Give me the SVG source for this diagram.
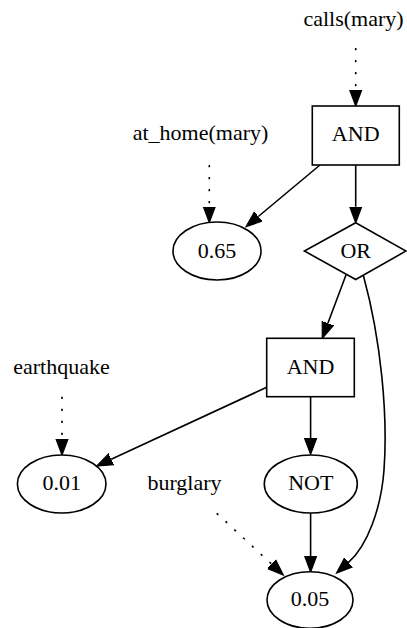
<svg xmlns="http://www.w3.org/2000/svg" width="407" height="628" viewBox="0 0 407 628">
<style>
  .lbl { font-size: 22px; fill: #000; text-anchor: middle; }
  .shape { fill: #fff; stroke: #000; stroke-width: 1.6; }
  .edge { fill: none; stroke: #000; stroke-width: 1.6; }
  .dotted { stroke-dasharray: 2.2 9.8; }
</style>
<defs>
  <marker id="arrow" markerUnits="userSpaceOnUse" markerWidth="18" markerHeight="14" viewBox="0 -7 18 14" refX="0" refY="0" orient="auto">
    <path d="M0,-6 L16,0 L0,6 Z" fill="#000" stroke="#000" stroke-width="1.2"/>
  </marker>
</defs>

<g id="connectors">
  <path class="edge dotted" d="M355.7,48 L355.7,90" marker-end="url(#arrow)"/>
  <path class="edge dotted" d="M209.3,165 L209.3,206.5" marker-end="url(#arrow)"/>
  <path class="edge" d="M320,165 L258.3,216.5" marker-end="url(#arrow)"/>
  <path class="edge" d="M355.7,165 L355.7,206.7" marker-end="url(#arrow)"/>
  <path class="edge" d="M346,275 L327.9,323.3" marker-end="url(#arrow)"/>
  <path class="edge" d="M266.7,387.3 L111.2,459.2" marker-end="url(#arrow)"/>
  <path class="edge dotted" d="M62,396.7 L62,439" marker-end="url(#arrow)"/>
  <path class="edge" d="M310.6,396.7 L310.6,438.3" marker-end="url(#arrow)"/>
  <path class="edge" d="M310.6,513 L310.6,556" marker-end="url(#arrow)"/>
  <path class="edge dotted" d="M216.7,513.3 L271.6,564.1" marker-end="url(#arrow)"/>
  <path class="edge" d="M363.5,276 C381,340 388,415 384,470 C381.2,508.5 367.2,545.8 348.5,562.4" marker-end="url(#arrow)"/>
</g>

<g font-family="Liberation Serif, serif">
<g id="calls_mary"><text class="lbl" x="353.5" y="26">calls(mary)</text></g>
<g id="and1">
  <rect class="shape" x="312.3" y="106" width="87" height="59"/>
  <text class="lbl" x="355.7" y="141">AND</text>
</g>
<g id="at_home_mary"><text class="lbl" x="200.5" y="140">at_home(mary)</text></g>
<g id="p065">
  <ellipse class="shape" cx="217" cy="251" rx="44" ry="29"/>
  <text class="lbl" x="217" y="257.5">0.65</text>
</g>
<g id="or">
  <polygon class="shape" points="355.7,222.7 406,251 355.7,279.5 304.4,251"/>
  <text class="lbl" x="355.7" y="257.5">OR</text>
</g>
<g id="and2">
  <rect class="shape" x="266.7" y="338.3" width="87.6" height="58.4"/>
  <text class="lbl" x="310.5" y="374">AND</text>
</g>
<g id="earthquake"><text class="lbl" x="61.5" y="374">earthquake</text></g>
<g id="p001">
  <ellipse class="shape" cx="61.7" cy="484" rx="44.3" ry="29"/>
  <text class="lbl" x="61.7" y="490">0.01</text>
</g>
<g id="burglary"><text class="lbl" x="184.5" y="490">burglary</text></g>
<g id="not">
  <ellipse class="shape" cx="310.8" cy="484" rx="46.5" ry="29"/>
  <text class="lbl" x="310.8" y="490">NOT</text>
</g>
<g id="p005">
  <ellipse class="shape" cx="310" cy="600" rx="43" ry="28.3"/>
  <text class="lbl" x="310" y="606">0.05</text>
</g>
</g>
</svg>
